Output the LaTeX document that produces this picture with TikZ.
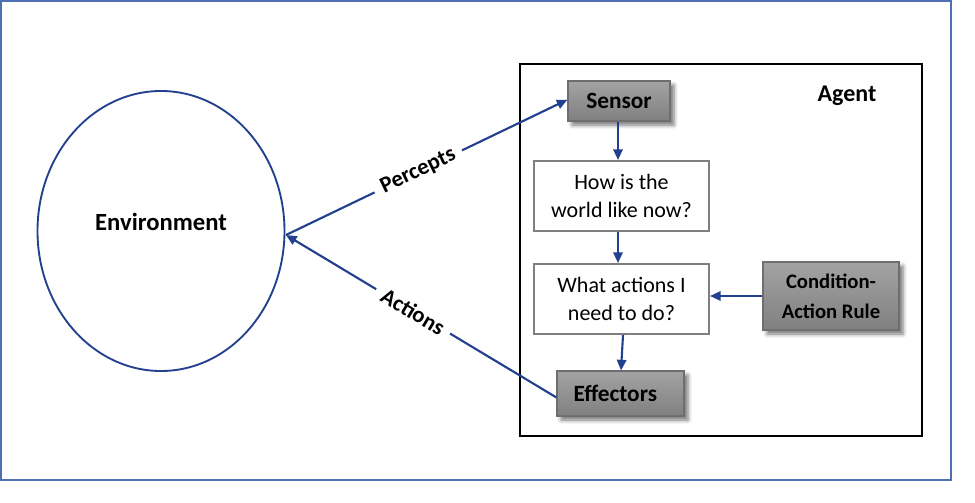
\documentclass[tikz,border=0pt]{standalone}
\usepackage{fontspec}
\setmainfont{Carlito}
\usetikzlibrary{arrows.meta,shadows.blur,calc}

\definecolor{linkblue}{HTML}{23408E}
\definecolor{framecol}{HTML}{5070B4}
\definecolor{boxedge}{HTML}{7F7F7F}
\definecolor{grayedge}{HTML}{6E6E6E}
\definecolor{graytop}{HTML}{A3A3A3}
\definecolor{graybot}{HTML}{808080}

\tikzset{
  link/.style={draw=linkblue, line width=1.6pt,
    -{Triangle[length=8pt,width=7pt]}},
  graybox/.style={rectangle, draw=grayedge, line width=0.8pt,
    top color=graytop, bottom color=graybot, inner sep=0pt,
    align=center, font=\bfseries\fontsize{17.5}{22}\selectfont,
    blur shadow={shadow xshift=3pt, shadow yshift=-3pt,
      shadow blur radius=3pt, shadow opacity=55}},
  whitebox/.style={rectangle, draw=boxedge, line width=1.5pt, fill=white,
    inner sep=0pt, align=center, font=\fontsize{16.5}{21}\selectfont,
    minimum width={175*0.75pt}, minimum height={70*0.75pt}},
  edgelabel/.style={sloped, fill=white, inner xsep=6pt, inner ysep=1pt,
    font=\bfseries\fontsize{17}{20}\selectfont}
}

\begin{document}
\begin{tikzpicture}[x=0.75pt, y=-0.75pt]
  \useasboundingbox (0,0) rectangle (975,503);

  % outer frame
  \draw[framecol, line width=1.1pt] (0.8,0.8) rectangle (951,480);

  % environment
  \draw[linkblue, line width=1.4pt] (161,231) ellipse [x radius=123.5, y radius=140];
  \node[font=\bfseries\fontsize{18.5}{22}\selectfont] (env) at (161,222) {Environment};
  \coordinate (envpt) at (286,235);

  % agent
  \draw[black, line width=1.7pt] (520,64) rectangle (922,436);
  \node[font=\bfseries\fontsize{18}{20}\selectfont] (agent) at (847,96) {Agent};

  \node[graybox, minimum width={102*0.75pt}, minimum height={40*0.75pt}]
    (sensor) at (619,101) {Sensor};
  \node[whitebox] (world) at (621.5,196) {How is the\\world like now?};
  \node[whitebox] (todo) at (621.5,299) {What actions I\\need to do?};
  \node[graybox, minimum width={136*0.75pt}, minimum height={68*0.75pt},
    font=\bfseries\fontsize{15.5}{22.5}\selectfont]
    (rule) at (831,296) {Condition-\\Action Rule};
  \node[graybox, minimum width={127*0.75pt}, minimum height={45*0.75pt},
    text width={118*0.75pt}, align=left]
    (effectors) at (620.5,393.5) {\hspace*{9pt}Effectors};

  % internal flow
  \draw[link] (sensor.south -| 618,0) -- (world.north -| 618,0);
  \draw[link] (world.south -| 618,0) -- (todo.north -| 618,0);
  \draw[link] (todo.south -| 623,0) -- (effectors.north -| 621,0);
  \draw[link] (rule.west) -- (rule.west -| todo.east);

  % percepts and actions
  \draw[link] (envpt) -- node[edgelabel, pos=0.47] {Percepts} ([yshift=1pt]sensor.west);
  \draw[link] ([yshift=-3pt]effectors.west) -- node[edgelabel, pos=0.53] {Actions} (envpt);
\end{tikzpicture}
\end{document}
